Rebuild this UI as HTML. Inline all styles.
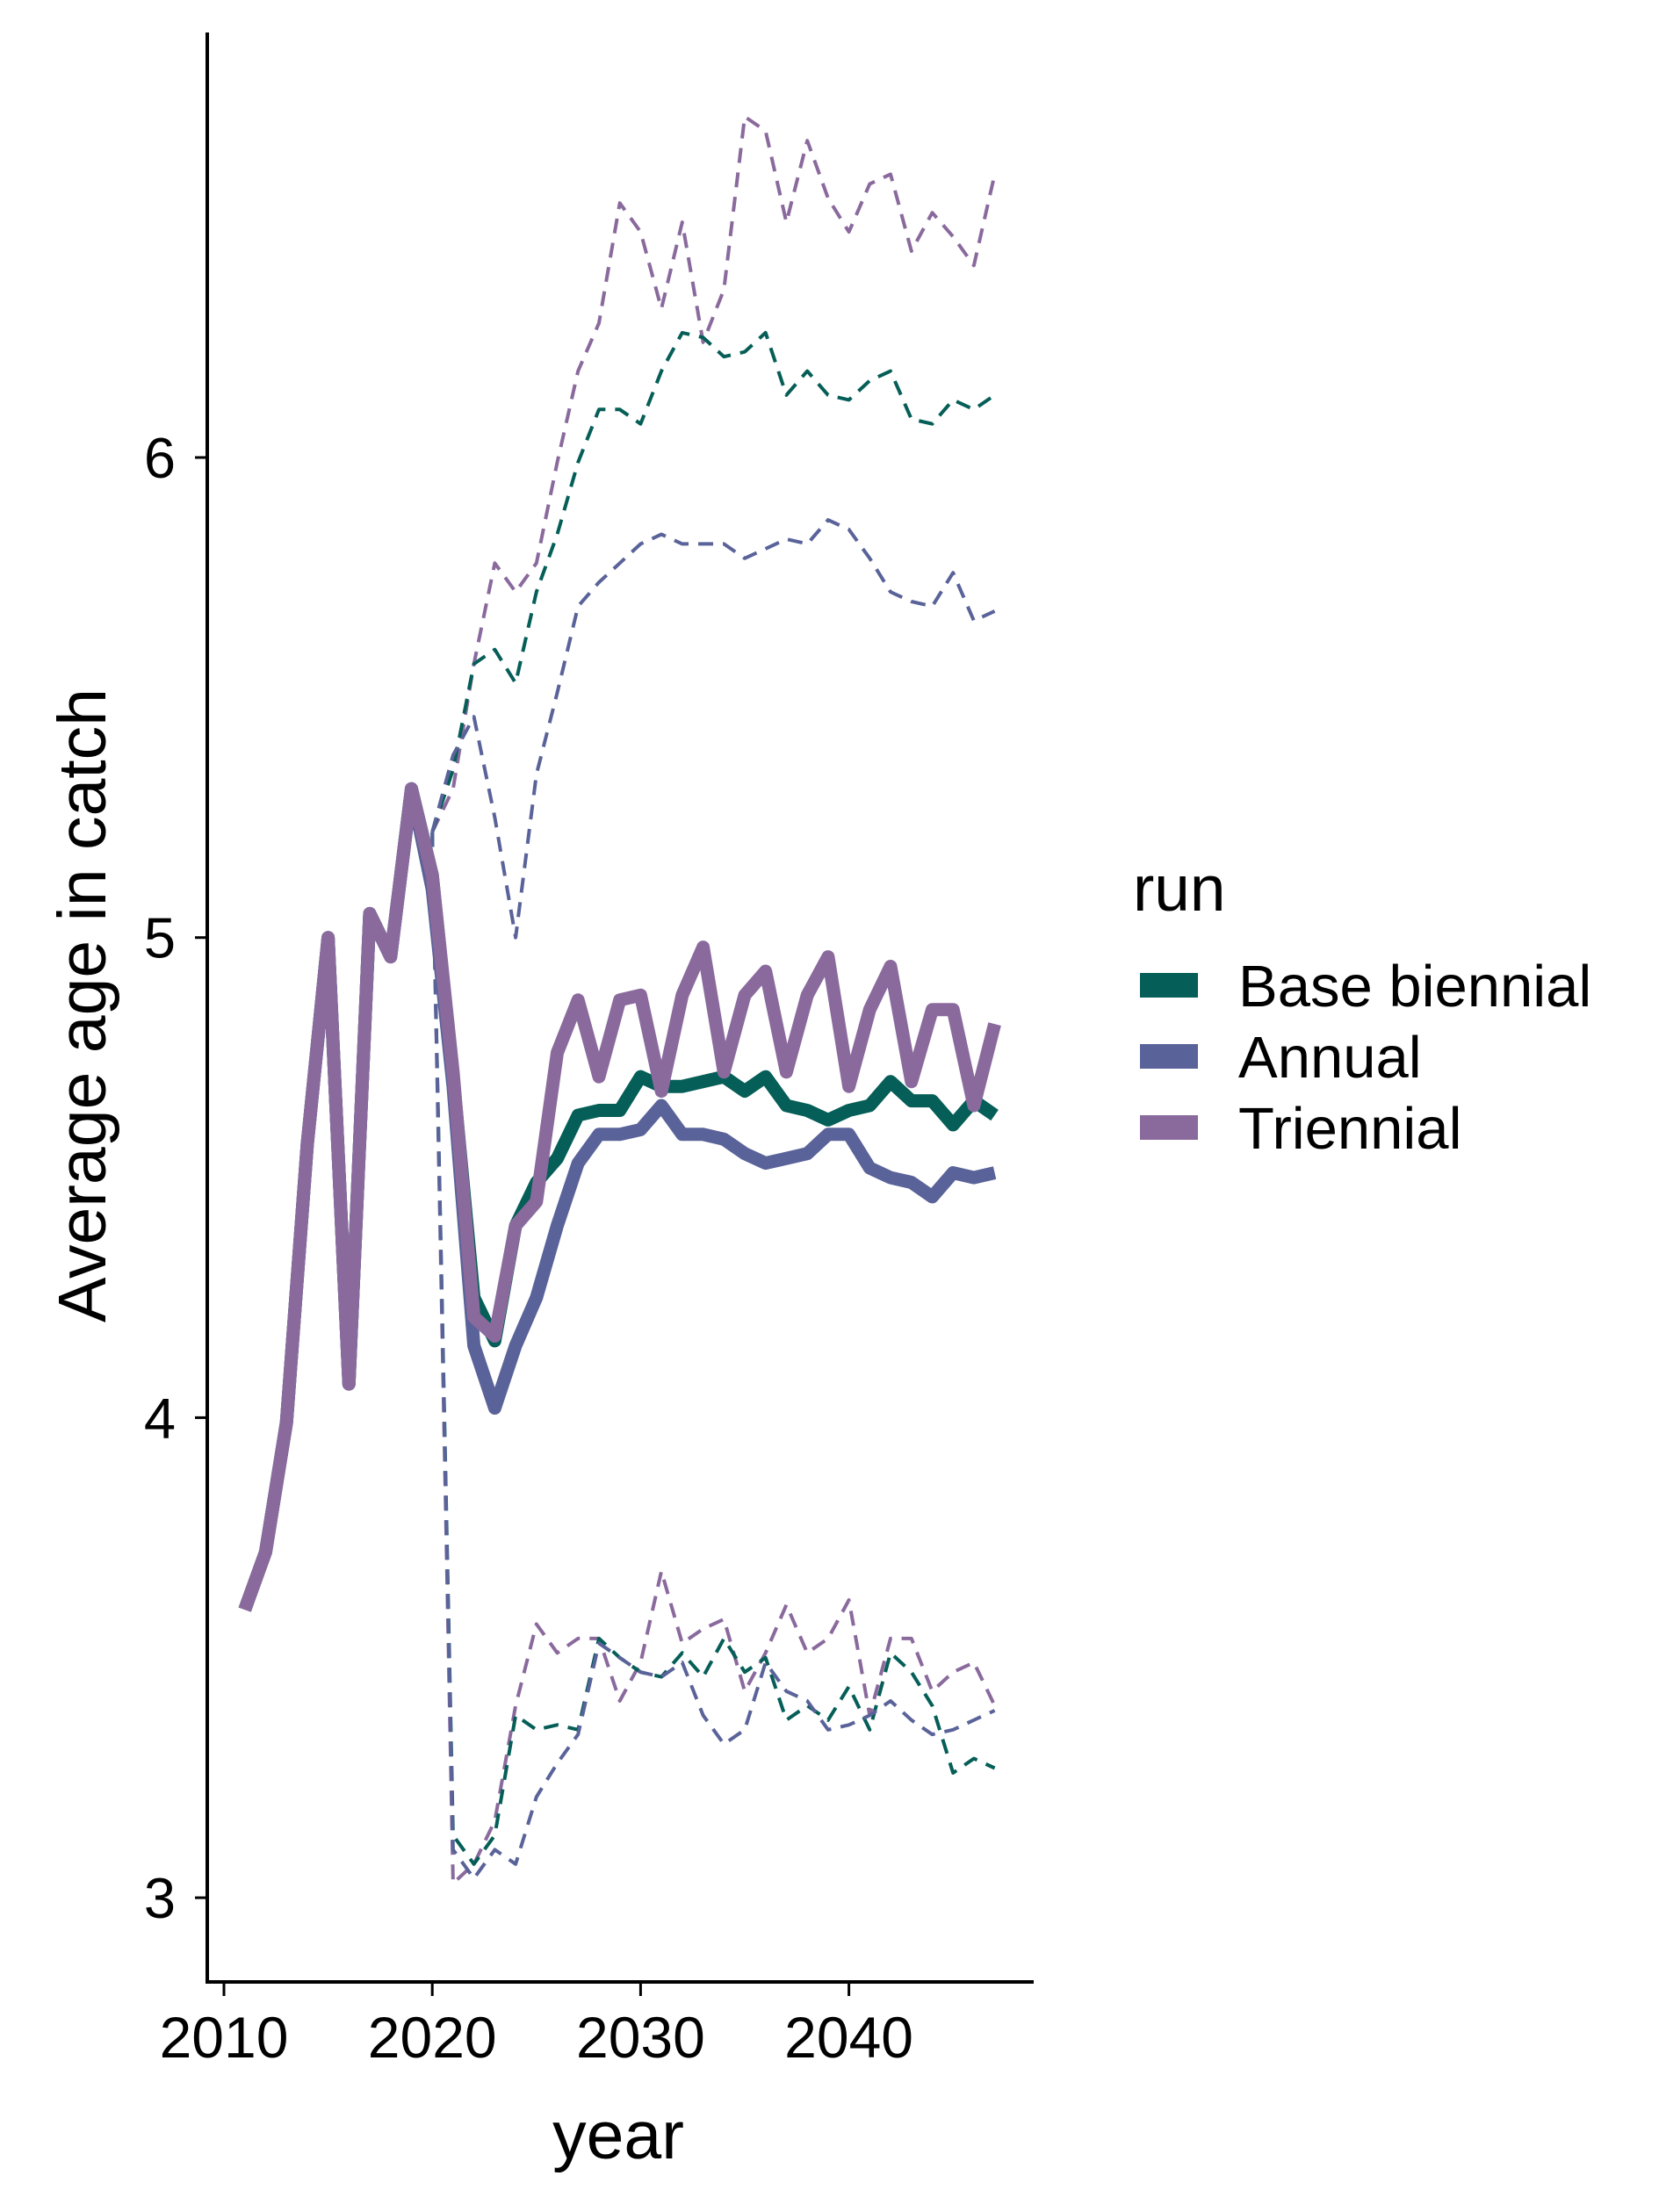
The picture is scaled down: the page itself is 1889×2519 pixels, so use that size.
<!DOCTYPE html>
<html><head><meta charset="utf-8"><style>
body{margin:0;background:#fff}
svg{display:block;font-family:"Liberation Sans",Arial,sans-serif}
</style></head><body>
<svg id="chart" width="1889" height="2519" viewBox="0 0 1889 2519">
<g id="axes"></g><g id="lines"></g><g id="legend"></g>
</svg>
<script>
const years = [];
for (let y = 2011; y <= 2047; y++) years.push(y);
const triennial = [3.60,3.72,3.99,4.57,5.0,4.07,5.05,4.96,5.31,5.13,4.72,4.21,4.17,4.40,4.45,4.76,4.87,4.71,4.87,4.88,4.68,4.88,4.98,4.72,4.88,4.93,4.72,4.88,4.96,4.69,4.85,4.94,4.70,4.85,4.85,4.65,4.82];
const baseBiennial = [3.60,3.72,3.99,4.57,5.0,4.07,5.05,4.96,5.31,5.13,4.71,4.25,4.16,4.40,4.49,4.54,4.63,4.64,4.64,4.71,4.69,4.69,4.70,4.71,4.68,4.71,4.65,4.64,4.62,4.64,4.65,4.70,4.66,4.66,4.61,4.66,4.63];
const annual = [3.60,3.72,3.99,4.57,5.0,4.07,5.05,4.96,5.31,5.10,4.69,4.15,4.02,4.15,4.25,4.40,4.53,4.59,4.59,4.60,4.65,4.59,4.59,4.58,4.55,4.53,4.54,4.55,4.59,4.59,4.52,4.50,4.49,4.46,4.51,4.50,4.51];
const bandYears = [];
for (let y = 2020; y <= 2047; y++) bandYears.push(y);
const triUpper = [5.22,5.31,5.57,5.78,5.72,5.78,5.99,6.18,6.28,6.53,6.47,6.31,6.49,6.24,6.35,6.71,6.68,6.49,6.66,6.54,6.47,6.57,6.59,6.43,6.51,6.46,6.40,6.59];
const baseUpper = [5.22,5.35,5.57,5.60,5.53,5.72,5.84,5.99,6.10,6.10,6.07,6.18,6.26,6.25,6.21,6.22,6.26,6.13,6.18,6.13,6.12,6.16,6.18,6.08,6.07,6.12,6.10,6.13];
const annUpper = [5.22,5.38,5.46,5.25,5.00,5.34,5.51,5.69,5.74,5.78,5.82,5.84,5.82,5.82,5.82,5.79,5.81,5.83,5.82,5.87,5.85,5.79,5.72,5.70,5.69,5.76,5.66,5.68];
const triLower = [5.22,3.03,3.07,3.16,3.40,3.57,3.51,3.54,3.54,3.41,3.49,3.68,3.53,3.56,3.58,3.43,3.51,3.61,3.51,3.54,3.62,3.38,3.54,3.54,3.43,3.47,3.49,3.40];
const baseLower = [5.22,3.13,3.07,3.13,3.38,3.35,3.36,3.35,3.54,3.50,3.47,3.46,3.51,3.46,3.54,3.47,3.50,3.37,3.40,3.37,3.44,3.35,3.51,3.47,3.40,3.26,3.29,3.27];
const annLower = [5.22,3.10,3.04,3.10,3.07,3.21,3.28,3.34,3.53,3.50,3.47,3.46,3.49,3.38,3.32,3.35,3.49,3.43,3.41,3.35,3.36,3.38,3.41,3.37,3.34,3.35,3.37,3.39];
const yTicks = [3,4,5,6];
const xTicks = [2010,2020,2030,2040];

const NS = "http://www.w3.org/2000/svg";
const X = yr => 255 + (yr - 2010) * 23.72;
const Y = v => 521 + (6 - v) * 546.7;
function mk(tag, attrs, parent, text) {
  const e = document.createElementNS(NS, tag);
  for (const k in attrs) e.setAttribute(k, attrs[k]);
  if (text !== undefined) e.textContent = text;
  parent.appendChild(e);
  return e;
}
const axes = document.getElementById('axes');
const lines = document.getElementById('lines');
const legend = document.getElementById('legend');

let ax = mk('line', {x1:236,y1:37,x2:236,y2:2259,stroke:'#000','stroke-width':4}, axes);


let bx = mk('line', {x1:234,y1:2257,x2:1177,y2:2257,stroke:'#000','stroke-width':4}, axes);


yTicks.forEach(t => {
  const tk = mk('line', {x1:222,y1:Y(t),x2:236,y2:Y(t),stroke:'#000','stroke-width':3}, axes);
  
  
  const lb = mk('text', {x:200,y:Y(t)+23,'text-anchor':'end','font-size':65}, axes, String(t));
  
  
});
xTicks.forEach(t => {
  const tk = mk('line', {x1:X(t),y1:2257,x2:X(t),y2:2273,stroke:'#000','stroke-width':3}, axes);
  
  
  const lb = mk('text', {x:X(t),y:2343,'text-anchor':'middle','font-size':66}, axes, String(t));
  
  
});
let xt = mk('text', {x:704,y:2458,'text-anchor':'middle','font-size':77}, axes, 'year');


let yt = mk('text', {x:0,y:0,'text-anchor':'middle','font-size':77,transform:'translate(120,1145) rotate(-90)'}, axes, 'Average age in catch');



const cBase = '#055e57', cAnn = '#5a6399', cTri = '#8a6a9d';
function path(xs, vs, color, w, dash, name) {
  const d = vs.map((v, i) => (i ? 'L' : 'M') + X(xs[i]).toFixed(1) + ',' + Y(v).toFixed(1)).join(' ');
  const p = mk('path', {d, fill:'none', stroke:color, 'stroke-width':w, 'stroke-linejoin':'round', 'stroke-dasharray':dash || 'none'}, lines);
  
  
}
path(bandYears, triUpper, cTri, 4, '17 11', 'triennial-upper-bound');
path(bandYears, baseUpper, cBase, 4, '17 11', 'base-biennial-upper-bound');
path(bandYears, annUpper, cAnn, 4, '17 11', 'annual-upper-bound');
path(bandYears, triLower, cTri, 4, '17 11', 'triennial-lower-bound');
path(bandYears, baseLower, cBase, 4, '17 11', 'base-biennial-lower-bound');
path(bandYears, annLower, cAnn, 4, '17 11', 'annual-lower-bound');
path(years, baseBiennial, cBase, 15, null, 'base-biennial-line');
path(years, annual, cAnn, 15, null, 'annual-line');
path(years, triennial, cTri, 15, null, 'triennial-line');

let lt = mk('text', {x:1290,y:1037,'font-size':73}, legend, 'run');


[['Base biennial', cBase, 1122], ['Annual', cAnn, 1203], ['Triennial', cTri, 1284]].forEach(([n, c, cy]) => {
  const k = mk('rect', {x:1298,y:cy-14,width:66,height:28,fill:c}, legend);
  
  
  const t = mk('text', {x:1410,y:cy+24,'font-size':67}, legend, n);
  
  
});
</script>
</body></html>
